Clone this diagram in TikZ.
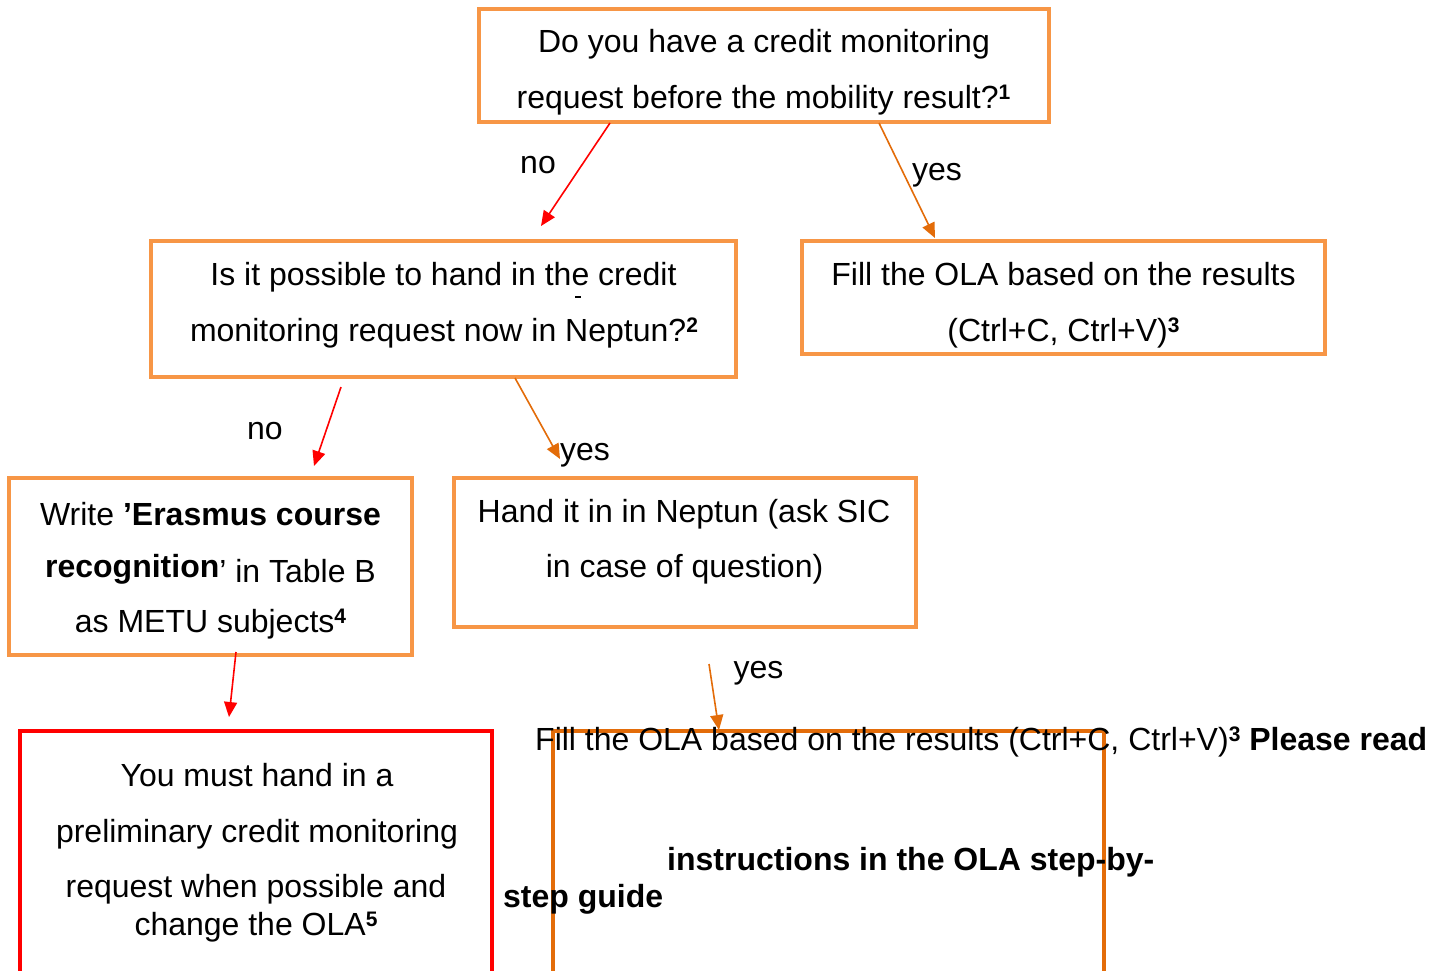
\documentclass[tikz,border=0pt]{standalone}
\usepackage{fontspec}
\setmainfont{Liberation Sans}
\usetikzlibrary{arrows.meta}
\definecolor{boxorange}{HTML}{F79646}
\definecolor{darkorange}{HTML}{E36C09}
\definecolor{pured}{HTML}{FF0000}
\newcommand\mysup[1]{\raisebox{9pt}{\fontsize{21}{21}\selectfont\textbf{#1}}}
\begin{document}
\begin{tikzpicture}[x=1pt,y=-1pt,
  obox/.style={draw=boxorange,line width=4pt,inner sep=0pt,fill=none},
  rbox/.style={draw=pured,line width=4pt,inner sep=0pt},
  dbox/.style={draw=darkorange,line width=4pt,inner sep=0pt},
  txt/.style={font=\fontsize{32}{38}\selectfont,inner sep=0pt,anchor=base},
  txtw/.style={font=\fontsize{32}{38}\selectfont,inner sep=0pt,anchor=base west},
  redarr/.style={draw=pured,line width=1.6pt,-{Triangle[length=15pt,width=13pt]}},
  orarr/.style={draw=darkorange,line width=1.6pt,-{Triangle[length=15pt,width=13pt]}}]
\useasboundingbox (0,0) rectangle (1442,970);
\clip (0,0) rectangle (1442,970);
\fill[white] (0,0) rectangle (1442,970);

% boxes
\node[obox,minimum width=570pt,minimum height=113pt] (q1) at (764,65.5) {};
\node[obox,minimum width=585pt,minimum height=136pt] (q2) at (443.5,309) {};
\node[obox,minimum width=523pt,minimum height=113pt] (f1) at (1063.5,297.5) {};
\node[obox,minimum width=403pt,minimum height=177pt] (w1) at (210.5,566.5) {};
\node[obox,minimum width=462pt,minimum height=149pt] (h1) at (685,552.5) {};
\node[rbox,minimum width=472pt,minimum height=270pt] (m1) at (256,866) {};
\node[dbox,minimum width=551pt,minimum height=270pt] (f2) at (828.5,866) {};

% texts
\node[txt] (q1a) at (764,52) {Do you have a credit monitoring};
\node[txt] (q1b) at (763.5,108) {request before the mobility result?\mysup{1}};
\node[txt] (q2a) at (443.5,285) {Is it possible to hand in the credit};
\node[txt] (q2b) at (444,341) {monitoring request now in Neptun?\mysup{2}};
\draw[line width=1.5pt] (575,297) -- (581,297);
\node[txt] (f1a) at (1063.5,285) {Fill the OLA based on the results};
\node[txt] (f1b) at (1063.5,341) {(Ctrl+C, Ctrl+V)\mysup{3}};
\node[txt] (w1a) at (210.5,525) {Write \textbf{’Erasmus course}};
\node[txt] (w1b) at (210.5,577) {\textbf{recognition}\raisebox{-5pt}{’ in Table B}};
\node[txt] (w1c) at (210.5,632) {as METU subjects\mysup{4}};
\node[txt] (h1a) at (684,522) {Hand it in in Neptun (ask SIC};
\node[txt] (h1b) at (684.5,577) {in case of question)};
\node[txt] (m1a) at (257,786) {You must hand in a};
\node[txt] (m1b) at (257,842) {preliminary credit monitoring};
\node[txt] (m1c) at (256,897) {request when possible and};
\node[txt] (m1d) at (256,935) {change the OLA\mysup{5}};
\node[txtw] (f2a) at (535,750) {Fill the OLA based on the results (Ctrl+C, Ctrl+V)\mysup{3} \textbf{Please read}};
\node[txtw] (f2b) at (667,870) {\textbf{instructions in the OLA step-by-}};
\node[txtw] (f2c) at (503,907) {\textbf{step guide}};

% labels
\node[txt] (l1) at (538,173) {no};
\node[txt] (l2) at (937,180) {yes};
\node[txt] (l3) at (265,439) {no};
\node[txt] (l4) at (585,460) {yes};
\node[txt] (l5) at (758.5,678) {yes};

% connector ends
\coordinate (a1s) at (610,123);
\coordinate (a1e) at (541,226);
\coordinate (a2s) at (879,123);
\coordinate (a2e) at (935,238);
\coordinate (a3s) at (341,387);
\coordinate (a3e) at (314,466);
\coordinate (a4s) at (515,378);
\coordinate (a4e) at (560,459);
\coordinate (a5s) at (236,652);
\coordinate (a5e) at (229,717);
\coordinate (a6s) at (709,664);
\coordinate (a6e) at (719,730);

\draw[redarr] (a1s) -- (a1e);
\draw[orarr] (a2s) -- (a2e);
\draw[redarr] (a3s) -- (a3e);
\draw[orarr] (a4s) -- (a4e);
\draw[redarr] (a5s) -- (a5e);
\draw[orarr] (a6s) -- (a6e);
\end{tikzpicture}
\end{document}
